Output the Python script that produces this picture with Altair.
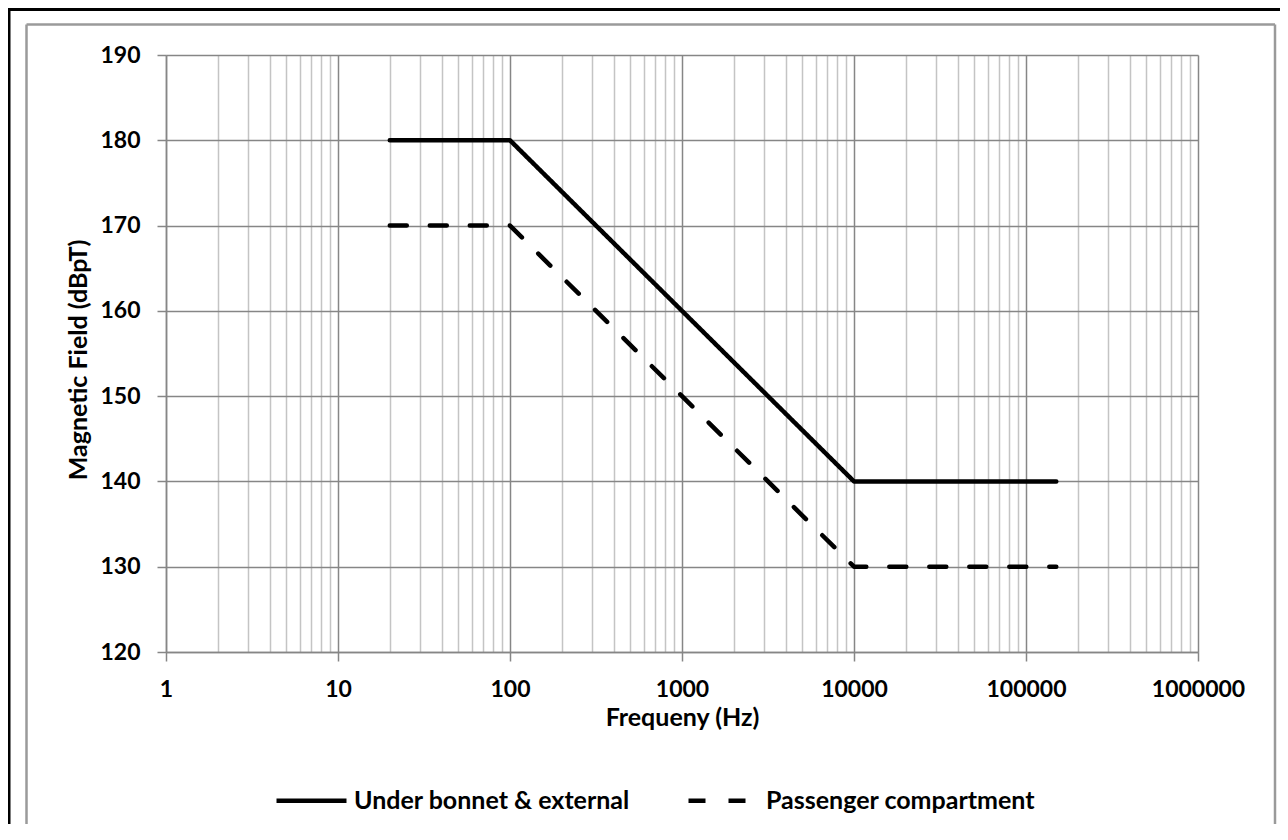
import altair as alt
import pandas as pd

# ---- data ----
freq = [20, 100, 10000, 150000]
under_bonnet = [180, 180, 140, 140]
passenger = [170, 170, 130, 130]
series_names = ["Under bonnet & external", "Passenger compartment"]
x_major = [1, 10, 100, 1000, 10000, 100000, 1000000]
x_minor = [k * 10 ** d for d in range(6) for k in range(2, 10)]
y_ticks = [120, 130, 140, 150, 160, 170, 180, 190]

rows = []
for f, v in zip(freq, under_bonnet):
    rows.append({"freq": f, "field": v, "series": series_names[0]})
for f, v in zip(freq, passenger):
    rows.append({"freq": f, "field": v, "series": series_names[1]})
df = pd.DataFrame(rows)

FONT = "Lato"
FS = 23
TFS = 25
MAJOR = "#868686"
MINOR = "#c4c4c4"
major_test = "indexof(" + str(x_major) + ", datum.value) >= 0"

W, H = 1032, 597

x_axis = alt.Axis(
    values=sorted(x_major + x_minor),
    format="d",
    labelExpr=major_test + " ? datum.label : ''",
    labelFlush=False,
    labelOverlap=False,
    labelPadding=17,
    tickSize=9, tickWidth=1.5,
    tickColor={"condition": {"test": major_test, "value": MAJOR}, "value": "transparent"},
    grid=True,
    gridColor={"condition": {"test": major_test, "value": MAJOR}, "value": MINOR},
    gridWidth=1.5,
    domainColor=MAJOR, domainWidth=1.5,
    title="Frequeny (Hz)",
    titleX=W / 2, titleY=65, titleBaseline="middle", titleAlign="center",
)

y_axis = alt.Axis(
    values=y_ticks,
    labelFlush=False,
    labelPadding=17,
    tickSize=9, tickWidth=1.5, tickColor=MAJOR,
    grid=True, gridColor=MAJOR, gridWidth=1.5,
    domainColor=MAJOR, domainWidth=1.5,
    title="Magnetic Field (dBpT)",
    titleAngle=270, titleX=-88, titleY=H / 2 + 6, titleBaseline="middle", titleAlign="center",
)

lines = alt.Chart(df).mark_line(
    strokeWidth=4.5, strokeCap="round", strokeJoin="round", color="black"
).encode(
    x=alt.X("freq:Q", scale=alt.Scale(type="log", domain=[1, 1000000], nice=False), axis=x_axis),
    y=alt.Y("field:Q", scale=alt.Scale(domain=[120, 190], nice=False, zero=False), axis=y_axis),
    strokeDash=alt.StrokeDash(
        "series:N",
        scale=alt.Scale(domain=series_names, range=[[1, 0], [17, 23]]),
        legend=alt.Legend(
            title=None, orient="none", direction="horizontal",
            legendX=108, legendY=708,
            symbolType="stroke", symbolSize=4900, symbolStrokeWidth=4.5,
            symbolStrokeColor="black",
            labelFont=FONT, labelFontSize=TFS, labelFontWeight="bold", labelColor="black",
            labelOffset=5, columnPadding=49, labelLimit=500,
        ),
    ),
    detail="series:N",
)

deco_df = pd.DataFrame({"k": [0]})
def rule(x, x2, y, y2, color, width):
    return alt.Chart(deco_df).mark_rule(color=color, strokeWidth=width).encode(
        x=alt.value(x), x2=alt.value(x2), y=alt.value(y), y2=alt.value(y2)
    )

GRAY = "#9a9a9a"
deco = [
    rule(-139.5, 1109, -30.5, -30.5, GRAY, 2.5),
    rule(-139.5, -139.5, -30.5, 800, GRAY, 2.5),
    rule(1109, 1109, -30.5, 800, GRAY, 2.5),
    rule(-160, 1200, -45.5, -45.5, "black", 3),
    rule(-157, -157, -46, 800, "black", 3),
]

chart = alt.layer(*deco, lines).properties(
    width=W, height=H,
    autosize=alt.AutoSizeParams(type="none"),
    padding={"left": 158, "top": 47, "right": 82, "bottom": 172},
    background="white",
).configure_view(stroke=None).configure_axis(
    labelFont=FONT, labelFontSize=FS, labelFontWeight="bold", labelColor="black",
    titleFont=FONT, titleFontSize=TFS, titleFontWeight="bold", titleColor="black",
)

chart.save("out.html", embed_options={"renderer": "svg", "actions": False})
